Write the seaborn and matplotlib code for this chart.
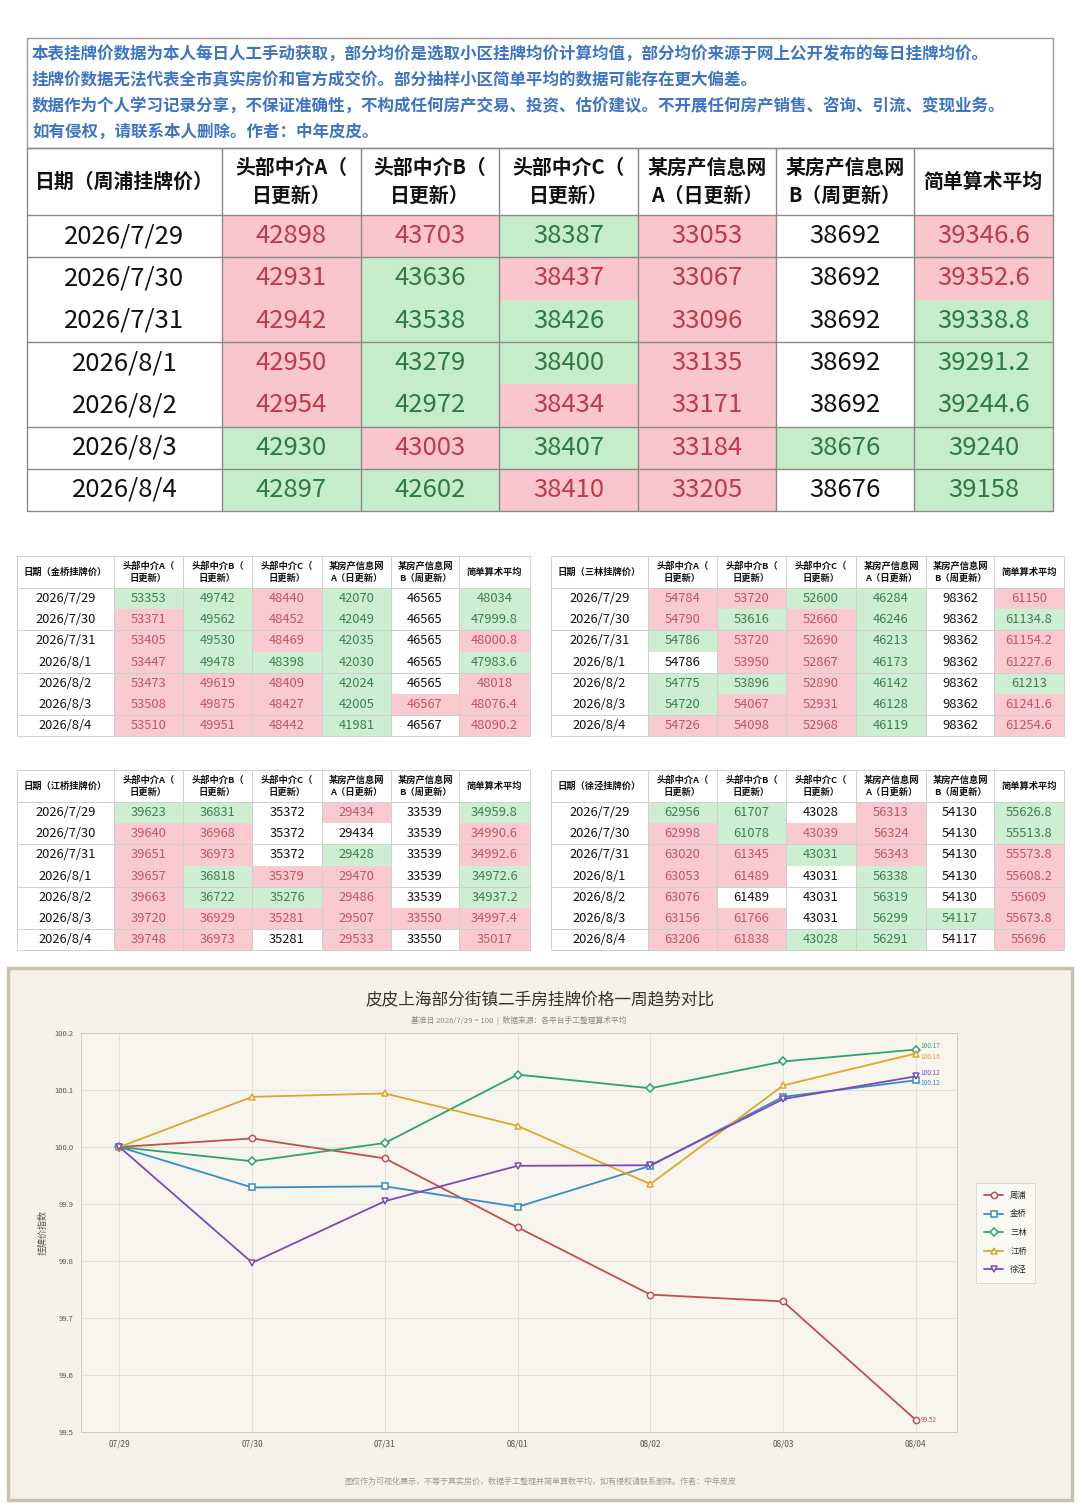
import numpy as np
import pandas as pd
import matplotlib
matplotlib.use("Agg")
import matplotlib.pyplot as plt
from matplotlib.patches import Rectangle
import seaborn as sns

sns.set_theme(style="whitegrid")
plt.rcParams['font.family'] = ['Noto Sans CJK SC', 'DejaVu Sans']
plt.rcParams['axes.unicode_minus'] = False

notice_lines = [
    "本表挂牌价数据为本人每日人工手动获取，部分均价是选取小区挂牌均价计算均值，部分均价来源于网上公开发布的每日挂牌均价。",
    "挂牌价数据无法代表全市真实房价和官方成交价。部分抽样小区简单平均的数据可能存在更大偏差。",
    "数据作为个人学习记录分享，不保证准确性，不构成任何房产交易、投资、估价建议。不开展任何房产销售、咨询、引流、变现业务。",
    "如有侵权，请联系本人删除。作者：中年皮皮。",
]

dates = ["2026/7/29", "2026/7/30", "2026/7/31", "2026/8/1", "2026/8/2", "2026/8/3", "2026/8/4"]
col_headers = ["头部中介A（\n日更新）", "头部中介B（\n日更新）", "头部中介C（\n日更新）",
               "某房产信息网\nA（日更新）", "某房产信息网\nB（周更新）", "简单算术平均"]

# columns: 中介A, 中介B, 中介C, 信息网A, 信息网B, 平均
zhoupu = [
    [42898, 42931, 42942, 42950, 42954, 42930, 42897],
    [43703, 43636, 43538, 43279, 42972, 43003, 42602],
    [38387, 38437, 38426, 38400, 38434, 38407, 38410],
    [33053, 33067, 33096, 33135, 33171, 33184, 33205],
    [38692, 38692, 38692, 38692, 38692, 38676, 38676],
    [39346.6, 39352.6, 39338.8, 39291.2, 39244.6, 39240, 39158],
]
jinqiao = [
    [53353, 53371, 53405, 53447, 53473, 53508, 53510],
    [49742, 49562, 49530, 49478, 49619, 49875, 49951],
    [48440, 48452, 48469, 48398, 48409, 48427, 48442],
    [42070, 42049, 42035, 42030, 42024, 42005, 41981],
    [46565, 46565, 46565, 46565, 46565, 46567, 46567],
    [48034, 47999.8, 48000.8, 47983.6, 48018, 48076.4, 48090.2],
]
sanlin = [
    [54784, 54790, 54786, 54786, 54775, 54720, 54726],
    [53720, 53616, 53720, 53950, 53896, 54067, 54098],
    [52600, 52660, 52690, 52867, 52890, 52931, 52968],
    [46284, 46246, 46213, 46173, 46142, 46128, 46119],
    [98362, 98362, 98362, 98362, 98362, 98362, 98362],
    [61150, 61134.8, 61154.2, 61227.6, 61213, 61241.6, 61254.6],
]
jiangqiao = [
    [39623, 39640, 39651, 39657, 39663, 39720, 39748],
    [36831, 36968, 36973, 36818, 36722, 36929, 36973],
    [35372, 35372, 35372, 35379, 35276, 35281, 35281],
    [29434, 29434, 29428, 29470, 29486, 29507, 29533],
    [33539, 33539, 33539, 33539, 33539, 33550, 33550],
    [34959.8, 34990.6, 34992.6, 34972.6, 34937.2, 34997.4, 35017],
]
xujing = [
    [62956, 62998, 63020, 63053, 63076, 63156, 63206],
    [61707, 61078, 61345, 61489, 61489, 61766, 61838],
    [43028, 43039, 43031, 43031, 43031, 43031, 43028],
    [56313, 56324, 56343, 56338, 56319, 56299, 56291],
    [54130, 54130, 54130, 54130, 54130, 54117, 54117],
    [55626.8, 55513.8, 55573.8, 55608.2, 55609, 55673.8, 55696],
]
# change vs. the day before 7/29 (1 up, -1 down, 0 flat)
zhoupu_first = [1, 1, -1, 1, 0, 1]
jinqiao_first = [-1, -1, 1, -1, 0, -1]
sanlin_first = [1, 1, -1, -1, 0, 1]
jiangqiao_first = [-1, -1, 0, 1, 0, -1]
xujing_first = [-1, -1, 0, 1, 0, -1]

# chart: index, base 7/29 = 100
chart_days = ["07/29", "07/30", "07/31", "08/01", "08/02", "08/03", "08/04"]
area_names = ["周浦", "金桥", "三林", "江桥", "徐泾"]
idx_zhoupu = [100.0, 100.015, 99.980, 99.859, 99.741, 99.729, 99.521]
idx_jinqiao = [100.0, 99.929, 99.931, 99.895, 99.967, 100.088, 100.117]
idx_sanlin = [100.0, 99.975, 100.007, 100.127, 100.103, 100.150, 100.171]
idx_jiangqiao = [100.0, 100.088, 100.094, 100.037, 99.935, 100.108, 100.164]
idx_xujing = [100.0, 99.797, 99.905, 99.967, 99.968, 100.084, 100.124]

line_colors = ["#c0504d", "#3a8cc0", "#2ca56b", "#e0a52b", "#7a4bb8"]
line_markers = ["o", "s", "D", "^", "v"]
label_nudge = [0, -2.2, 2.2, -2.2, 2.2]


def fmt(v):
    return f"{v:.1f}".rstrip("0").rstrip(".")


def draw_table(ax, edges, top, head_h, row_h, title, cols, first_signs, group_after,
               head_size, cell_size, line_color, line_w, bg_up, bg_down, fg_up, fg_down):
    n = len(dates)
    bottom = top + head_h + row_h * n
    for j, h in enumerate([title] + col_headers):
        cx = (edges[j] + edges[j + 1]) / 2
        ax.text(cx, top + head_h / 2, h, ha="center", va="center", fontsize=head_size,
                fontweight="bold", linespacing=1.4, color="#111111")
    for i, d in enumerate(dates):
        y0 = top + head_h + i * row_h
        ax.text((edges[0] + edges[1]) / 2, y0 + row_h / 2, d, ha="center", va="center",
                fontsize=cell_size, color="#111111")
        for j, col in enumerate(cols):
            v = col[i]
            sign = first_signs[j] if i == 0 else np.sign(v - col[i - 1])
            fg = "#111111"
            if sign > 0:
                ax.add_patch(Rectangle((edges[j + 1], y0), edges[j + 2] - edges[j + 1], row_h,
                                       facecolor=bg_up, lw=0, zorder=1))
                fg = fg_up
            elif sign < 0:
                ax.add_patch(Rectangle((edges[j + 1], y0), edges[j + 2] - edges[j + 1], row_h,
                                       facecolor=bg_down, lw=0, zorder=1))
                fg = fg_down
            ax.text((edges[j + 1] + edges[j + 2]) / 2, y0 + row_h / 2, fmt(v), ha="center",
                    va="center", fontsize=cell_size, color=fg, zorder=3)
    ys = [top, top + head_h] + [top + head_h + (k + 1) * row_h for k in group_after] + [bottom]
    for y in ys:
        ax.plot([edges[0], edges[-1]], [y, y], color=line_color, lw=line_w, zorder=2)
    for x in edges:
        ax.plot([x, x], [top, bottom], color=line_color, lw=line_w, zorder=2)


fig = plt.figure(figsize=(10.8, 15.05), dpi=100)
fig.patch.set_facecolor("white")
bg = fig.add_axes([0, 0, 1, 1])
bg.set_xlim(0, 1080)
bg.set_ylim(1505, 0)
bg.axis("off")

# notice box
bg.add_patch(Rectangle((27, 38), 1026, 110, facecolor="white", edgecolor="#9a9a9a", lw=1))
for k, line in enumerate(notice_lines):
    bg.text(32, 54 + 26 * k, line, ha="left", va="center", fontsize=11.9,
            fontweight="bold", color="#3d74c6")

# main table
draw_table(bg, [27, 222, 361, 499, 638, 776, 914, 1053], 148, 67, 42.3, "日期（周浦挂牌价）",
           zhoupu, zhoupu_first, [0, 2, 4, 5], 14.3, 18.5, "#8a8a8a", 1.0,
           "#f8c6cb", "#c6edc9", "#c0394a", "#2d7a45")

# small tables
small_kw = dict(head_h=32, row_h=21.2, head_size=6.7, cell_size=9.3, line_color="#cfcfcf",
                line_w=0.7, bg_up="#f9cad0", bg_down="#cdeed0", fg_up="#c25563", fg_down="#3f7f4f")
left_edges = [17, 114, 183, 252, 322, 391, 459, 530]
right_edges = [551, 648, 717, 786, 856, 926, 994, 1064]
draw_table(bg, left_edges, 556, title="日期（金桥挂牌价）", cols=jinqiao,
           first_signs=jinqiao_first, group_after=[1, 3, 5], **small_kw)
draw_table(bg, right_edges, 556, title="日期（三林挂牌价）", cols=sanlin,
           first_signs=sanlin_first, group_after=[1, 3, 5], **small_kw)
draw_table(bg, left_edges, 770, title="日期（江桥挂牌价）", cols=jiangqiao,
           first_signs=jiangqiao_first, group_after=[1, 3, 5], **small_kw)
draw_table(bg, right_edges, 770, title="日期（徐泾挂牌价）", cols=xujing,
           first_signs=xujing_first, group_after=[1, 3, 5], **small_kw)

# chart panel
bg.add_patch(Rectangle((8, 968), 1064, 532, facecolor="#f6f2e9", edgecolor="#c8c1b0", lw=2.5))
bg.text(540, 1000, "皮皮上海部分街镇二手房挂牌价格一周趋势对比", ha="center", va="center",
        fontsize=12, color="#333333")
bg.text(519, 1020, "基准日 2026/7/29 = 100  |  数据来源：各平台手工整理算术平均", ha="center",
        va="center", fontsize=5.6, color="#8a8a8a")
bg.text(540, 1481, "图仅作为可视化展示，不等于真实房价，数据手工整理并简单算数平均，如有侵权请联系删除。作者：中年皮皮",
        ha="center", va="center", fontsize=5.8, color="#9a9a9a")

chart_df = pd.DataFrame({
    "day": np.tile(np.arange(len(chart_days)), len(area_names)),
    "index": np.concatenate([idx_zhoupu, idx_jinqiao, idx_sanlin, idx_jiangqiao, idx_xujing]),
    "area": np.repeat(area_names, len(chart_days)),
})

ax = fig.add_axes([81 / 1080, 1 - 1432 / 1505, 876 / 1080, 399 / 1505])
ax.set_facecolor("#f8f5ef")
sns.lineplot(data=chart_df, x="day", y="index", hue="area", style="area",
             hue_order=area_names, style_order=area_names, palette=line_colors,
             markers=line_markers, dashes=False, errorbar=None, legend=False,
             markerfacecolor="white", markeredgewidth=1.1, markersize=4.5, linewidth=1.3, ax=ax)
handles = list(ax.get_lines()[:len(area_names)])
for ln in handles:
    ln.set_markeredgecolor(ln.get_color())
    ln.set_markerfacecolor("white")
ax.axhline(100, color="#bdbdbd", lw=0.7, ls=(0, (2, 2)), zorder=0)

for name, color, dy in zip(area_names, line_colors, label_nudge):
    last = chart_df[chart_df["area"] == name].iloc[-1]
    ax.annotate(f"{last['index']:.2f}", (last["day"], last["index"]), xytext=(3.5, dy),
                textcoords="offset points", fontsize=4.6, color=color, va="center")

ax.set_xlim(-0.29, 6.31)
ax.set_ylim(99.5, 100.2)
ax.set_xticks(range(len(chart_days)))
ax.set_xticklabels(chart_days)
ax.set_yticks(np.arange(99.5, 100.21, 0.1))
ax.set_yticklabels([f"{t:.1f}" for t in np.arange(99.5, 100.21, 0.1)])
ax.tick_params(axis="both", labelsize=5.5, colors="#555555", length=2, width=0.5)
ax.tick_params(axis="x", labelsize=6)
ax.set_xlabel("")
ax.set_ylabel("挂牌价指数", fontsize=6.5, color="#555555", labelpad=5)
ax.grid(True, color="#e2ded6", lw=0.6)
for s in ax.spines.values():
    s.set_color("#cfcac0")
    s.set_linewidth(0.7)

leg = ax.legend(handles, area_names, loc="center left", bbox_to_anchor=(1.017, 0.5),
                fontsize=6, frameon=True, fancybox=False, labelspacing=1.15,
                handlelength=2.2, borderpad=1.0, handletextpad=0.9)
leg.get_frame().set_facecolor("#fbfaf6")
leg.get_frame().set_edgecolor("#d0ccc2")
leg.get_frame().set_linewidth(0.6)

fig.savefig("out.png", dpi=100, facecolor="white")
